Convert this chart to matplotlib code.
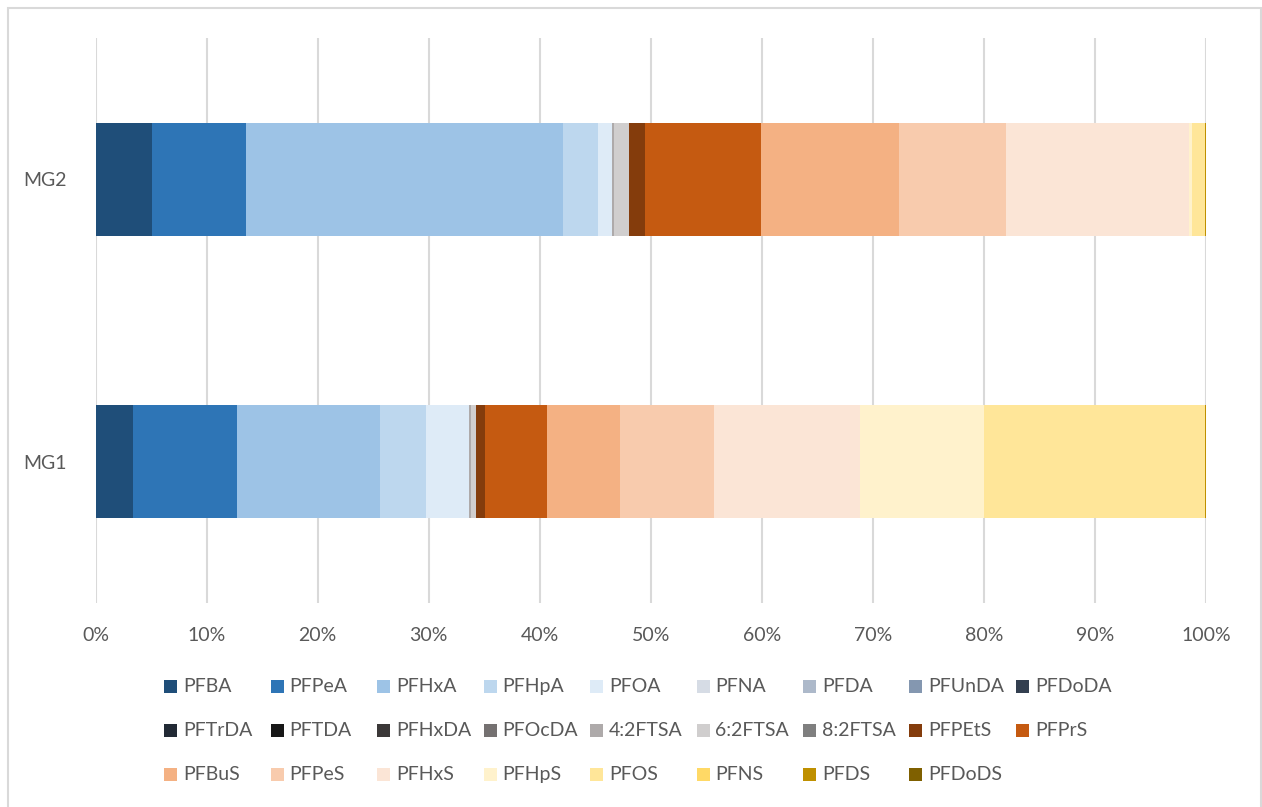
import matplotlib
matplotlib.use("Agg")
import matplotlib.pyplot as plt
from matplotlib.patches import Rectangle
import numpy as np

plt.rcParams['font.family'] = ['Lato', 'DejaVu Sans']

sites = ["MG1", "MG2"]

compounds = [
    "PFBA", "PFPeA", "PFHxA", "PFHpA", "PFOA", "PFNA", "PFDA", "PFUnDA", "PFDoDA",
    "PFTrDA", "PFTDA", "PFHxDA", "PFOcDA", "4:2FTSA", "6:2FTSA", "8:2FTSA", "PFPEtS", "PFPrS",
    "PFBuS", "PFPeS", "PFHxS", "PFHpS", "PFOS", "PFNS", "PFDS", "PFDoDS",
]

colors = [
    "#1f4e79", "#2e75b6", "#9dc3e6", "#bdd7ee", "#deebf7", "#d6dce5", "#adb9ca", "#8497b0", "#333f50",
    "#222a35", "#171717", "#3b3838", "#757171", "#aeaaaa", "#d0cece", "#7f7f7f", "#843c0c", "#c55a11",
    "#f4b183", "#f8cbad", "#fbe5d6", "#fff2cc", "#ffe699", "#ffd966", "#bf9000", "#7f6000",
]

# Percentage share of each compound (order of `compounds`)
mg1 = [3.40, 9.34, 12.89, 4.13, 3.87, 0, 0, 0, 0,
       0, 0, 0, 0, 0.15, 0.49, 0, 0.77, 5.61,
       6.60, 8.44, 13.17, 11.11, 19.98, 0, 0.05, 0]
mg2 = [5.12, 8.44, 28.57, 3.14, 1.24, 0, 0, 0, 0,
       0, 0, 0, 0, 0.15, 1.36, 0, 1.46, 10.44,
       12.43, 9.65, 16.49, 0.24, 1.22, 0, 0.05, 0]

W, H = 1262, 807
fig = plt.figure(figsize=(W / 100, H / 100), dpi=100)

# axes placement in pixels
ax_left, ax_right, ax_top, ax_bottom = 95.5, 1206, 38, 603
ax = fig.add_axes([ax_left / W, 1 - ax_bottom / H, (ax_right - ax_left) / W, (ax_bottom - ax_top) / H])

data = np.array([mg1, mg2])
totals = data.sum(axis=1, keepdims=True)
shares = data / totals * 100
y = np.arange(len(sites))
left = np.zeros(len(sites))
for i, name in enumerate(compounds):
    ax.barh(y, shares[:, i], left=left, height=0.4, color=colors[i], linewidth=0, zorder=3)
    left += shares[:, i]

ax.set_xlim(0, 100)
ax.set_ylim(-0.5, 1.5)
ax.set_xticks(np.arange(0, 101, 10))
ax.set_xticklabels([f"{v}%" for v in range(0, 101, 10)])
ax.set_yticks(y)
ax.set_yticklabels(sites)
ax.grid(axis='x', color='#d9d9d9', linewidth=1.5, zorder=0)
ax.tick_params(axis='both', length=0, labelsize=14, labelcolor='#595959')
ax.tick_params(axis='x', pad=17)
ax.tick_params(axis='y', pad=21)
for s in ax.spines.values():
    s.set_visible(False)

# legend: 9 columns x 3 rows, filled row by row
lx0, ly0, dx, dy, sq = 164, 686, 106.5, 44, 13
for k, (name, c) in enumerate(zip(compounds, colors)):
    r, col = divmod(k, 9)
    x = lx0 + col * dx
    yy = ly0 + r * dy
    fig.patches.append(Rectangle((x / W, 1 - (yy + sq / 2) / H), sq / W, sq / H,
                                 transform=fig.transFigure, facecolor=c, edgecolor='none'))
    fig.text((x + sq + 6) / W, 1 - (yy + 0.5) / H, name, fontsize=14, color='#595959',
             va='center', ha='left')

# chart frame
fig.patches.append(Rectangle((7.5 / W, -0.01), (1261 - 7.5) / W, 1 - 7.5 / H + 0.01,
                             transform=fig.transFigure, facecolor='none',
                             edgecolor='#d9d9d9', linewidth=1.5))

fig.savefig("out.png", dpi=100)
